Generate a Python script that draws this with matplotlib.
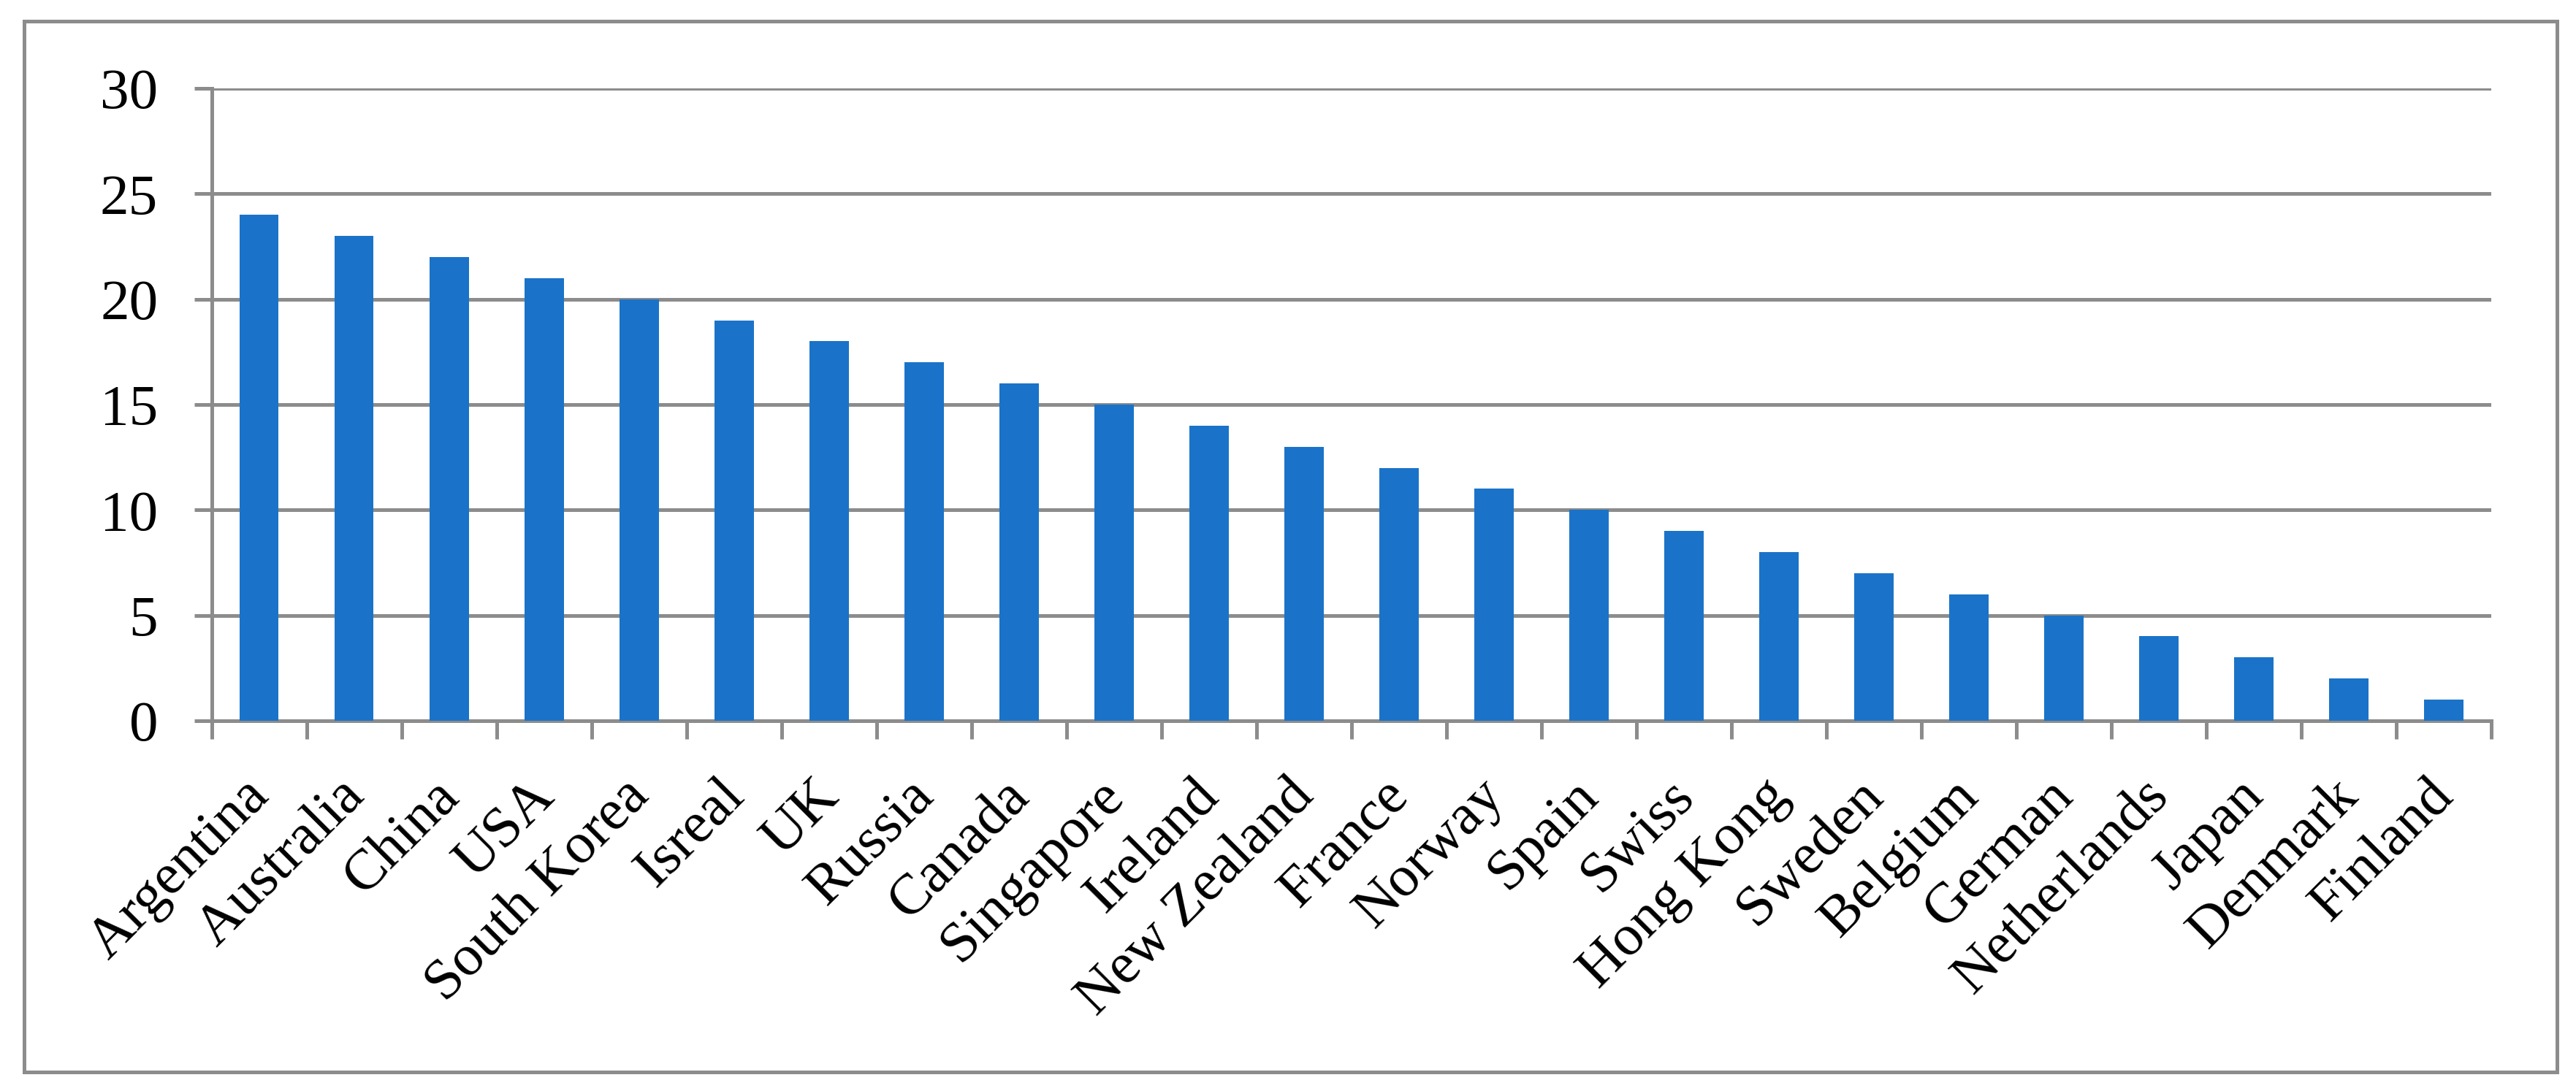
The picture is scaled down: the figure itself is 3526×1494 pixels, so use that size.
import matplotlib.pyplot as plt
from matplotlib.patches import Rectangle
from matplotlib.transforms import ScaledTranslation
import numpy as np

plt.rcParams['font.family'] = ['Liberation Serif', 'DejaVu Serif']

countries = ['Argentina', 'Australia', 'China', 'USA', 'South Korea', 'Isreal', 'UK',
             'Russia', 'Canada', 'Singapore', 'Ireland', 'New Zealand', 'France', 'Norway',
             'Spain', 'Swiss', 'Hong Kong', 'Sweden', 'Belgium', 'German', 'Netherlands',
             'Japan', 'Denmark', 'Finland']
values = [24, 23, 22, 21, 20, 19, 18, 17, 16, 15, 14, 13, 12, 11, 10, 9, 8, 7, 6, 5, 4, 3, 2, 1]
yticks = [0, 5, 10, 15, 20, 25, 30]

GRAY = '#8c8c8c'
BLUE = '#1a73c8'
LW = 3.6

fig = plt.figure(figsize=(35.26, 14.94), dpi=100)
ax = fig.add_axes([0.0822, 0.3394, 0.9671 - 0.0822, 0.9190 - 0.3394])

x = np.arange(len(countries))
ax.bar(x, values, width=0.41, color=BLUE, zorder=3)

ax.set_xlim(-0.5, len(countries) - 0.5)
ax.set_ylim(0, 30)
ax.set_yticks(yticks)
ax.yaxis.grid(True, color=GRAY, linewidth=LW, zorder=0)
ax.set_axisbelow(True)

for s in ['top', 'right']:
    ax.spines[s].set_visible(False)
for s in ['left', 'bottom']:
    ax.spines[s].set_color(GRAY)
    ax.spines[s].set_linewidth(LW)

# category labels at centres, tick marks at the category boundaries
ax.set_xticks(x)
ax.set_xticklabels(countries, rotation=45, ha='right', rotation_mode='anchor', fontsize=57)
ax.tick_params(axis='x', which='major', length=0, pad=48)
shift = ScaledTranslation(-0.23, 0, fig.dpi_scale_trans)
for lbl in ax.get_xticklabels():
    lbl.set_transform(lbl.get_transform() + shift)
ax.set_xticks(np.arange(len(countries) + 1) - 0.5, minor=True)
ax.tick_params(axis='x', which='minor', length=18, width=LW, color=GRAY)

ax.tick_params(axis='y', length=17, width=LW, color=GRAY, labelsize=57, pad=36)

fig.patches.append(Rectangle((0.0094, 0.0174), 0.9926 - 0.0094, 0.9806 - 0.0174,
                             transform=fig.transFigure, fill=False,
                             edgecolor=GRAY, linewidth=LW))

fig.savefig('out.png', dpi=100)
